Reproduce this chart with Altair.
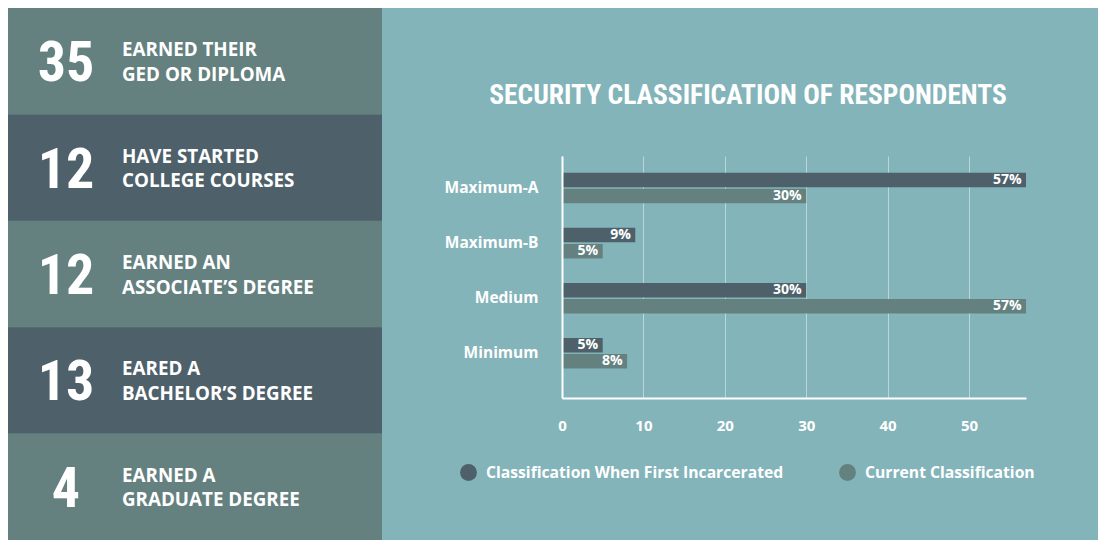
import altair as alt
import pandas as pd

BG = "#83b4ba"
DARK = "#4e616a"
LIGHT = "#648180"
NARROW = "Roboto Condensed"
SANS = "Open Sans"

# ---- left panel data ----
stat_numbers = ["35", "12", "12", "13", "4"]
stat_line1 = ["EARNED THEIR", "HAVE STARTED", "EARNED AN", "EARED A", "EARNED A"]
stat_line2 = ["GED OR DIPLOMA", "COLLEGE COURSES", "ASSOCIATE\u2019S DEGREE",
              "BACHELOR\u2019S DEGREE", "GRADUATE DEGREE"]
stat_shade = ["light", "dark", "light", "dark", "light"]

# ---- bar chart data ----
title_text = "SECURITY CLASSIFICATION OF RESPONDENTS"
categories = ["Maximum-A", "Maximum-B", "Medium", "Minimum"]
series = ["Classification When First Incarcerated", "Current Classification"]
first_values = [57, 9, 30, 5]
current_values = [30, 5, 57, 8]
x_ticks = [0, 10, 20, 30, 40, 50]

stats = pd.DataFrame({
    "row": list(range(len(stat_numbers))),
    "number": stat_numbers,
    "line1": stat_line1,
    "line2": stat_line2,
    "shade": stat_shade,
})

rows = []
for c, a, b in zip(categories, first_values, current_values):
    rows.append({"category": c, "series": series[0], "value": a})
    rows.append({"category": c, "series": series[1], "value": b})
bars_df = pd.DataFrame(rows)

# ---- left panel ----
ybase = alt.Y("row:O", axis=None, scale=alt.Scale(paddingInner=0, paddingOuter=0))
sbase = alt.Chart(stats)
rect_light = sbase.mark_rect(color=LIGHT).encode(y=ybase)
rect_dark = sbase.transform_filter("datum.shade == 'dark'").mark_rect(color=DARK).encode(y=ybase)
nums = sbase.mark_text(font=NARROW, fontSize=56, fontWeight="bold", color="white",
                       align="center", baseline="alphabetic", dy=20).encode(
    y=ybase, x=alt.value(58), text="number:N")
l1 = sbase.mark_text(font=SANS, fontSize=18.8, fontWeight="bold", color="white",
                     align="left", baseline="alphabetic", dy=-5).encode(
    y=ybase, x=alt.value(114), text="line1:N")
l2 = sbase.mark_text(font=SANS, fontSize=18.8, fontWeight="bold", color="white",
                     align="left", baseline="alphabetic", dy=19.5).encode(
    y=ybase, x=alt.value(114), text="line2:N")
left = alt.layer(rect_light, rect_dark, nums, l1, l2).properties(width=374, height=532)

# ---- title (its view sits right above the bar plot) ----
title_chart = alt.Chart(pd.DataFrame({"t": [title_text]})).mark_text(
    font=NARROW, fontSize=27.5, fontWeight="bold", color="white",
    align="center", baseline="alphabetic"
).encode(x=alt.value(186), y=alt.value(96), text="t:N").properties(width=536, height=148)

# ---- bar chart ----
y_enc = alt.Y("category:N", sort=categories, title=None,
              scale=alt.Scale(paddingInner=0.445, paddingOuter=0.4185, align=0.362),
              axis=alt.Axis(domainColor="white", domainWidth=2, ticks=False, grid=False,
                            labelPadding=24, labelFont=SANS, labelFontWeight="bold",
                            labelFontSize=15.5, labelColor="white",
                            minExtent=180, maxExtent=180, zindex=1))
yoff = alt.YOffset("series:N", sort=series, scale=alt.Scale(paddingInner=0.1, paddingOuter=0))
x_enc = alt.X("value:Q", title=None, scale=alt.Scale(domain=[0, 57], nice=False),
              axis=alt.Axis(values=x_ticks, domainColor="white", domainWidth=2, ticks=False,
                            labelPadding=20, labelFont=SANS, labelFontWeight="bold",
                            labelFontSize=15, labelColor="white", labelBaseline="top",
                            labelFlush=False,
                            grid=True, gridColor="white", gridOpacity=0.45, gridWidth=1))
color_enc = alt.Color("series:N", sort=series, title=None,
                      scale=alt.Scale(domain=series, range=[DARK, LIGHT]),
                      legend=alt.Legend(orient="none", legendX=452, legendY=456,
                                        direction="horizontal", symbolType="circle",
                                        symbolSize=284, symbolStrokeWidth=0, symbolOpacity=1,
                                        labelFont=SANS, labelFontSize=15.7,
                                        labelFontWeight="bold", labelColor="white",
                                        labelOffset=9, columnPadding=55, padding=0,
                                        labelLimit=400))

bbase = alt.Chart(bars_df).transform_calculate(label="datum.value + '%'")
bars = bbase.mark_bar().encode(x=x_enc, y=y_enc, yOffset=yoff, color=color_enc)
labels = bbase.mark_text(align="right", baseline="middle", dx=-4.5, font=SANS,
                         fontWeight="bold", fontSize=14, color="white").encode(
    x=alt.X("value:Q"), y=alt.Y("category:N", sort=categories), yOffset=yoff, text="label:N")
bar_chart = alt.layer(bars, labels).properties(width=464, height=242)

right = alt.vconcat(title_chart, bar_chart, spacing=0)

chart = alt.hconcat(left, right, spacing=0).properties(
    padding=0, background=BG
).configure_view(stroke=None)

chart.save("out.html", embed_options={"renderer": "svg", "actions": False})
